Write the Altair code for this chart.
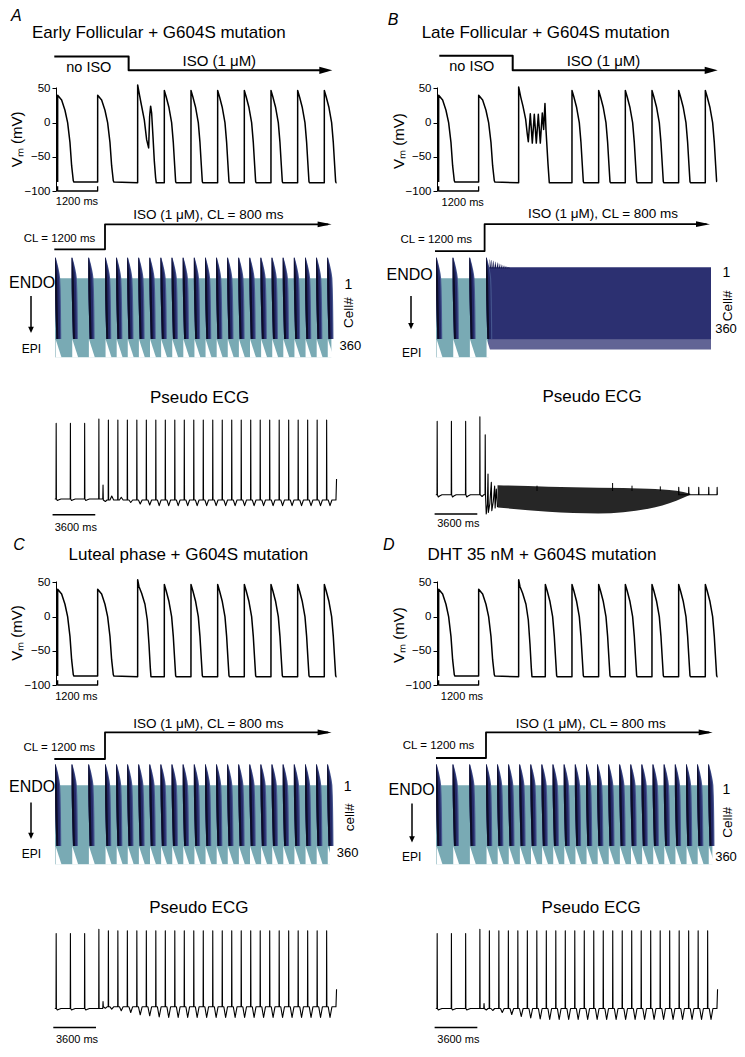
import altair as alt
import pandas as pd

FONT = "Liberation Sans"
PW = 296
COL_GAP = 85
TEAL = "#79aab4"
NAVY_LIGHT = "#45558e"
NAVY = "#242968"
NAVY_DARK = "#0c0d26"
BLOCK = "#2c3071"

# ---------------- action-potential shapes (ms after stimulus, mV) ----------------
AP_PRE_T = [0, 1, 120, 220, 300, 370, 420, 470, 490]
AP_PRE_V = [-87, 40, 33, 18, 0, -29, -63, -85, -87]
AP_ISO_T = [0, 1, 60, 140, 220, 270, 310, 340, 355]
AP_ISO_V = [-88, 47, 37, 22, 0, -29, -62, -86, -88]
AP_ISO1_T = [0, 1, 40, 120, 220, 290, 340, 380, 400]
AP_ISO1_V = [-88, 54, 44, 34, 18, -5, -40, -75, -88]
AP_EAD_T = [0, 1, 50, 100, 200, 270, 330, 360, 390, 420, 460, 500, 540, 560]
AP_EAD_V = [-88, 55, 42, 29, 4, -25, -37, 9, 24, 14, -20, -56, -81, -88]
AP_OSC_T = [0, 1, 60, 130, 210, 260, 290, 350, 410, 470, 530, 590, 650, 710, 750, 790, 820, 880, 920]
AP_OSC_V = [-88, 52, 38, 24, 5, -17, -28, 13, -30, 12, -30, 12, -30, 14, -10, 28, -10, -60, -88]
SHAPES = {"pre": (AP_PRE_T, AP_PRE_V), "iso": (AP_ISO_T, AP_ISO_V), "iso1": (AP_ISO1_T, AP_ISO1_V),
          "ead": (AP_EAD_T, AP_EAD_V), "osc": (AP_OSC_T, AP_OSC_V)}

# ---------------- single-cell Vm stimulus times ----------------
VM_A_BEATS = [0, 1200, 2400, 3200, 4000, 4800, 5600, 6400, 7200, 8000]
VM_A_KIND = ["pre", "pre", "ead", "iso", "iso", "iso", "iso", "iso", "iso", "iso"]
VM_B_BEATS = [0, 1200, 2400, 4000, 4800, 5600, 6400, 7200, 8000]
VM_B_KIND = ["pre", "pre", "osc", "iso", "iso", "iso", "iso", "iso", "iso"]
VM_C_BEATS = [0, 1200, 2400, 3200, 4000, 4800, 5600, 6400, 7200, 8000]
VM_C_KIND = ["pre", "pre", "iso1", "iso", "iso", "iso", "iso", "iso", "iso", "iso"]
VM_D_BEATS = [0, 1200, 2400, 3200, 4000, 4800, 5600, 6400, 7200, 8000]
VM_D_KIND = ["pre", "pre", "iso1", "iso", "iso", "iso", "iso", "iso", "iso", "iso"]
VM_END = {"A": 8370, "B": 8350, "C": 8370, "D": 8370}

# ---------------- transmural strand (wavefront timing per depth, ms) ----------------
WAVE_DEPTH = [-94, -70, -40, 0, 100, 200, 277]
WAVE_LEAD = [0, 0, 0, 0, 20, 60, 95]
WAVE_TAIL = [60, 160, 270, 370, 420, 440, 450]
TIS_BEATS = [0, 1200, 2400, 3600, 4400, 5200, 6000, 6800, 7600, 8400, 9200, 10000, 10800,
             11600, 12400, 13200, 14000, 14800, 15600, 16400, 17200, 18000, 18800, 19600]
TIS_B_BEATS = [0, 1200, 2400, 3600]
TIS_B_SLIVER_T = [3860, 3990, 4120, 4250, 4390, 4520, 4660, 4800, 4940, 5080, 5220]
TIS_B_SLIVER_D = [-86, -83, -80, -76, -72, -68, -64, -60, -57, -54, -52]

# ---------------- pseudo ECG ----------------
ECG_ISO_BEATS = [4400, 5200, 6000, 6800, 7600, 8400, 9200, 10000, 10800, 11600, 12400, 13200,
                 14000, 14800, 15600, 16400, 17200, 18000, 18800, 19600, 20400, 21200, 22000, 22800]
ECG_A_T = [3, 1.7, -3.5, -5, -6, -6.7] + [-6.7] * 18
ECG_C_T = [-0.6, -2.3, -4, -6.3, -7.3, -8.5] + [-9] * 18
ECG_D_T = [-2, -4, -6, -8, -9.5, -10.5] + [-11] * 18
ECG_B_OSC_T = [4050, 4065, 4090, 4150, 4250, 4300, 4330, 4450, 4580, 4620, 4740, 4860, 4900, 5000, 5100]
ECG_B_OSC_V = [4.3, 64.3, 4, -15, -5, 25, -13.4, -5, 16.6, -11.7, -3, 13, -9, 10, -8]
ECG_B_ENV_T = [5100, 9383, 13598, 17813, 20173, 21353]
ECG_B_ENV_HI = [13.8, 12.3, 11.3, 10.3, 8.3, 5.3]
ECG_B_ENV_LO = [-8.4, -12.7, -14.4, -9.7, -1.7, 4.3]
ECG_B_TICK_T = [8430, 14803, 16439, 18824]
ECG_B_TICK_V = [13.3, 16.0, 13.3, 12.6]
ECG_B_LATE = [20367, 21210, 22053, 22896, 23604]

# ---------------- row geometry ----------------
VM_T = [-49, -49 + PW * 30]
VM_V = [-100, 52]
VM_H = 104
TIS_T = [72, 72 + PW * 72]
TIS_D_AB, TIS_H_AB = [-398, 360], 166.3
TIS_D_CD, TIS_H_CD = [-456.5, 360], 179.2
ECG_T = [0, PW * 84.3]
ECG_V_AB, ECG_H_AB = [-81.3, 141], 222.3
ECG_V_CD, ECG_H_CD = [-12, 143.5], 155.5

VM_AXIS = alt.Axis(values=[-100, -50, 0, 50], title=None, grid=False, tickSize=4, tickWidth=1,
                   domainWidth=1, domainColor="black", tickColor="black", labelColor="black",
                   labelFont=FONT, labelFontSize=11.5, labelPadding=2)


def xq(field, dom):
    return alt.X(f"{field}:Q", scale=alt.Scale(domain=dom, nice=False, zero=False), axis=None)


def yq(field, dom, reverse=False, axis=None):
    return alt.Y(f"{field}:Q", scale=alt.Scale(domain=dom, nice=False, zero=False, reverse=reverse),
                 axis=axis)


def label(x, y, s, ex, ey, size, align="center", angle=0, style="normal", baseline="alphabetic"):
    df = pd.DataFrame({"x": [x], "y": [y], "s": [s]})
    return alt.Chart(df).mark_text(font=FONT, fontSize=size, align=align, baseline=baseline,
                                   angle=angle, fontStyle=style, color="black").encode(
        x=ex("x"), y=ey("y"), text="s:N")


def polyline(ts, vs, ex, ey, width=1.5):
    df = pd.DataFrame({"x": ts, "y": vs, "o": list(range(len(ts)))})
    return alt.Chart(df).mark_line(color="black", strokeWidth=width, strokeCap="butt",
                                   strokeJoin="round").encode(x=ex("x"), y=ey("y"), order="o:Q")


def arrow(x, y, ex, ey, path, size):
    df = pd.DataFrame({"x": [x], "y": [y]})
    return alt.Chart(df).mark_point(shape=path, size=size, filled=True, color="black",
                                    opacity=1, strokeWidth=0).encode(x=ex("x"), y=ey("y"))


ARROW_R = "M-1,-0.55L1,0L-1,0.55Z"
ARROW_R2 = "M-1,-0.4L1,0L-1,0.4Z"
ARROW_D = "M-0.9,-1L0.9,-1L0,1Z"


# ---------------- panels ----------------
def vm_chart(beats, kinds, t_end, texts, protocol=None):
    ex = lambda f: xq(f, VM_T)
    ey = lambda f: yq(f, VM_V, axis=VM_AXIS)
    ts, vs = [], []
    for b, k in zip(beats, kinds):
        T, V = SHAPES[k]
        for dt, v in zip(T, V):
            if b + dt <= t_end:
                ts.append(b + dt)
                vs.append(v)
    ts.append(t_end)
    vs.append(vs[-1])
    layers = [polyline(ts, vs, ex, ey, 1.5)]
    layers.append(polyline([0, 0, 1200, 1200], [-93, -100, -100, -93], ex, ey, 1.3))
    if protocol:
        t0, tstep, ttip, hi, lo = protocol
        layers.append(polyline([t0, tstep, tstep, ttip - 150], [hi, hi, lo, lo], ex, ey, 2))
        layers.append(arrow(ttip - 195, lo, ex, ey, ARROW_R, 169))
    for tx in texts:
        layers.append(label(*tx[:3], ex, ey, *tx[3:]))
    return alt.layer(*layers).properties(width=PW, height=VM_H)


def band_frame(beats):
    rows = []
    for i, b in enumerate(beats):
        for d, l, r in zip(WAVE_DEPTH, WAVE_LEAD, WAVE_TAIL):
            rows.append({"beat": i, "d": d, "tl": b + l, "tr": b + r,
                         "tm": b + l + 0.78 * (r - l), "tk": b + l + 0.4 * (r - l)})
    return pd.DataFrame(rows)


def tissue_chart(beats, t_end, dom, h, texts, protocol, endo_arrow, teal_end=None, dense=False):
    ex = lambda f: xq(f, TIS_T)
    ey = lambda f: yq(f, dom, reverse=True)
    layers = []
    teal = pd.DataFrame({"t0": [beats[0]], "t1": [teal_end or t_end], "d0": [0], "d1": [360]})
    layers.append(alt.Chart(teal).mark_rect(color=TEAL).encode(
        x=ex("t0"), x2="t1:Q", y=ey("d0"), y2="d1:Q"))
    if dense:
        blk = pd.DataFrame({"t0": [3750], "t1": [t_end], "d0": [-50], "d1": [280], "d2": [324]})
        layers.append(alt.Chart(blk).mark_rect(color=BLOCK, opacity=0.75).encode(
            x=ex("t0"), x2="t1:Q", y=ey("d1"), y2="d2:Q"))
        layers.append(alt.Chart(blk).mark_rect(color=BLOCK).encode(
            x=ex("t0"), x2="t1:Q", y=ey("d0"), y2="d1:Q"))
        rows = []
        for i, (t, d) in enumerate(zip(TIS_B_SLIVER_T, TIS_B_SLIVER_D)):
            rows.append({"beat": i, "d": d, "tl": t, "tr": t + 25})
            rows.append({"beat": i, "d": -45, "tl": t, "tr": t + 110})
        layers.append(alt.Chart(pd.DataFrame(rows)).mark_area(orient="horizontal", color="#161a50").encode(
            y=ey("d"), x=ex("tl"), x2="tr:Q", detail="beat:N"))
    bf = band_frame(beats)
    wedge = []
    for i, b in enumerate(beats):
        wedge.append({"beat": i, "d": 277, "tl": b + 40, "tr": b + 40})
        wedge.append({"beat": i, "d": 361, "tl": b + 40, "tr": b + 470})
    layers.append(alt.Chart(pd.DataFrame(wedge)).mark_area(orient="horizontal", color="white").encode(
        y=ey("d"), x=ex("tl"), x2="tr:Q", detail="beat:N"))
    layers.append(alt.Chart(bf).mark_area(orient="horizontal", color=NAVY_LIGHT, interpolate="monotone").encode(
        y=ey("d"), x=ex("tl"), x2="tr:Q", detail="beat:N"))
    layers.append(alt.Chart(bf).mark_area(orient="horizontal", color=NAVY, interpolate="monotone").encode(
        y=ey("d"), x=ex("tl"), x2="tm:Q", detail="beat:N"))
    layers.append(alt.Chart(bf).mark_area(orient="horizontal", color=NAVY_DARK, interpolate="monotone").encode(
        y=ey("d"), x=ex("tl"), x2="tk:Q", detail="beat:N"))
    t0, tstep, ttip, lo, hi = protocol
    layers.append(polyline([t0, tstep, tstep, ttip - 250], [lo, lo, hi, hi], ex, ey, 1.8))
    layers.append(arrow(ttip - 504, hi, ex, ey, ARROW_R2, 196))
    ta, da, db = endo_arrow
    layers.append(polyline([ta, ta], [da, db - 20], ex, ey, 1.5))
    layers.append(arrow(ta, db - 14, ex, ey, ARROW_D, 40))
    for tx in texts:
        layers.append(label(*tx[:3], ex, ey, *tx[3:]))
    return alt.layer(*layers).properties(width=PW, height=h)


def ecg_points(base_pre, pre_beats, pre_top, sp_top, sp_bump, base_iso, iso_top, iso_T, final_top):
    ts, vs = [-100], [base_pre]
    for b in pre_beats:
        for dt, v in [(0, base_pre), (15, pre_top), (35, base_pre), (110, base_pre - 1.5),
                      (250, base_pre - 0.8), (420, base_pre)]:
            ts.append(b + dt)
            vs.append(v)
    for dt, v in [(0, base_pre), (15, sp_top), (35, base_pre), (340, base_pre), (365, sp_bump),
                  (390, base_iso), (560, base_iso - 1.5), (700, base_iso)]:
        ts.append(3600 + dt)
        vs.append(v)
    for b, tv in zip(ECG_ISO_BEATS, iso_T):
        for dt, v in [(0, base_iso), (15, iso_top), (35, base_iso), (150, base_iso), (300, tv),
                      (460, base_iso)]:
            ts.append(b + dt)
            vs.append(v)
    ts += [23600, 23650]
    vs += [base_iso, final_top]
    return ts, vs


def ecg_chart(dom, h, texts, trace, bar, extra=None):
    ex = lambda f: xq(f, ECG_T)
    ey = lambda f: yq(f, dom)
    layers = []
    if extra:
        layers += extra(ex, ey)
    for ts, vs in trace:
        layers.append(polyline(ts, vs, ex, ey, 1.1))
    b0, b1, bv = bar
    layers.append(polyline([b0, b1], [bv, bv], ex, ey, 1.5))
    for tx in texts:
        layers.append(label(*tx[:3], ex, ey, *tx[3:]))
    return alt.layer(*layers).properties(width=PW, height=h)


# ----- single-cell Vm -----
A_vm = vm_chart(VM_A_BEATS, VM_A_KIND, VM_END["A"], [
    (-1400, 147.9, "A", 16, "left", 0, "italic"),
    (3035, 123.5, "Early Follicular + G604S mutation", 17),
    (935, 73.3, "no ISO", 14.5),
    (4850, 82.1, "ISO (1 μM)", 15),
    (580, -121.1, "1200 ms", 11),
    (-1210, -24.6, "Vₘ (mV)", 15, "center", 270, "normal", "middle"),
], protocol=(-100, 2130, 8240, 96.7, 76.3))
B_vm = vm_chart(VM_B_BEATS, VM_B_KIND, VM_END["B"], [
    (-1528, 143.1, "B", 16, "left", 0, "italic"),
    (3212, 123.5, "Late Follicular + G604S mutation", 17),
    (995, 74.8, "no ISO", 14.5),
    (4946, 82.1, "ISO (1 μM)", 15),
    (722, -121.5, "1200 ms", 11),
    (-1180, -27, "Vₘ (mV)", 15, "center", 270, "normal", "middle"),
], protocol=(20, 2222, 8372, 97.7, 76.3))
C_vm = vm_chart(VM_C_BEATS, VM_C_KIND, VM_END["C"], [
    (-1330, 97.8, "C", 16, "left", 0, "italic"),
    (3920, 83.1, "Luteal phase + G604S mutation", 17),
    (560, -121.5, "1200 ms", 11),
    (-1210, -24, "Vₘ (mV)", 15, "center", 270, "normal", "middle"),
])
D_vm = vm_chart(VM_D_BEATS, VM_D_KIND, VM_END["D"], [
    (-1669, 97.8, "D", 16, "left", 0, "italic"),
    (3100, 83.1, "DHT 35 nM + G604S mutation", 17),
    (700, -121.5, "1200 ms", 11),
    (-1180, -27, "Vₘ (mV)", 15, "center", 270, "normal", "middle"),
])

# ----- strand -----
ISO_CL = "ISO (1 μM), CL = 800 ms"
A_tis = tissue_chart(TIS_BEATS, 19900, TIS_D_AB, TIS_H_AB, [
    (11038, -272, ISO_CL, 13.5),
    (324, -165, "CL = 1200 ms", 11.5),
    (-1650, 42.8, "ENDO", 16),
    (-1706, 339, "EPI", 12),
    (21118, 47.4, "1", 14),
    (21190, 156.8, "Cell#", 13.5, "center", 270, "normal", "middle"),
    (21262, 326.7, "360", 13),
], (-50, 3600, 19915, -132, -246), (-1728, 80.7, 249))
B_tis = tissue_chart(TIS_B_BEATS, 19800, TIS_D_AB, TIS_H_AB, [
    (12024, -276, ISO_CL, 13.5),
    (22, -162, "CL = 1200 ms", 11.5),
    (-1900, 9.1, "ENDO", 16),
    (-1757, 357, "EPI", 12),
    (20900, -7, "1", 14),
    (21000, 126, "Cell#", 13.5, "center", 270, "normal", "middle"),
    (20880, 248, "360", 13),
], (-72, 3500, 19728, -124, -247), (-1800, 80.7, 232), teal_end=3780, dense=True)
C_tis = tissue_chart(TIS_BEATS, 19800, TIS_D_CD, TIS_H_CD, [
    (11038, -262, ISO_CL, 13.5),
    (310, -157, "CL = 1200 ms", 11.5),
    (-1650, 29.6, "ENDO", 16),
    (-1706, 331.7, "EPI", 12),
    (21067, 25, "1", 14),
    (21240, 146.7, "cell#", 13.5, "center", 270, "normal", "middle"),
    (21067, 329, "360", 13),
], (-50, 3600, 19915, -119.4, -240.6), (-1728, 78.4, 245.2))
D_tis = tissue_chart(TIS_BEATS, 19900, TIS_D_CD, TIS_H_CD, [
    (11140, -262, ISO_CL, 13.5),
    (180, -165, "CL = 1200 ms", 11.5),
    (-1750, 43.3, "ENDO", 16),
    (-1750, 344, "EPI", 12),
    (20900, 40, "1", 14),
    (21000, 169.5, "Cell#", 13.5, "center", 270, "normal", "middle"),
    (20880, 347, "360", 13),
], (0, 3600, 19922, -123.9, -240.6), (-1728, 82.9, 260.7))

# ----- pseudo ECG -----
A_ecg = ecg_chart(ECG_V_AB, ECG_H_AB, [
    (12105, 95.6, "Pseudo ECG", 17),
    (1669, -32, "3600 ms", 11),
], [ecg_points(0, [0, 1200, 2400], 75.6, 80, 14, -1, 79, ECG_A_T, 20)], (-290, 3310, -15.7))


def b_extra(ex, ey):
    env = pd.DataFrame({"x": ECG_B_ENV_T, "hi": ECG_B_ENV_HI, "lo": ECG_B_ENV_LO})
    ticks = pd.DataFrame({"x": ECG_B_TICK_T, "hi": ECG_B_TICK_V, "lo": [8] * len(ECG_B_TICK_T)})
    return [
        alt.Chart(env).mark_area(color="#262626", interpolate="monotone").encode(
            x=ex("x"), y=ey("hi"), y2="lo:Q"),
        alt.Chart(ticks).mark_rule(color="black", strokeWidth=1).encode(
            x=ex("x"), y=ey("lo"), y2="hi:Q"),
    ]


b_ts, b_vs = [-100], [4.3]
for b in [0, 1200, 2400]:
    for dt, v in [(0, 4.3), (15, 77.6), (35, 4.3), (110, 2.0), (250, 3.2), (420, 4.3)]:
        b_ts.append(b + dt)
        b_vs.append(v)
for dt, v in [(0, 4.3), (15, 82.3), (35, 4.3), (200, 2.5), (350, 4.3)]:
    b_ts.append(3600 + dt)
    b_vs.append(v)
b_ts += ECG_B_OSC_T
b_vs += ECG_B_OSC_V
b2_ts, b2_vs = [21353], [4.3]
for b in ECG_B_LATE:
    for dt, v in [(0, 4.3), (12, 11.6), (30, 4.3)]:
        if b + dt <= 23640:
            b2_ts.append(b + dt)
            b2_vs.append(v)
B_ecg = ecg_chart(ECG_V_AB, ECG_H_AB, [
    (13067, 96.6, "Pseudo ECG", 17),
    (1796, -28.4, "3600 ms", 11),
], [(b_ts, b_vs), (b2_ts, b2_vs)], (-202, 3398, -15), extra=b_extra)

C_ecg = ecg_chart(ECG_V_CD, ECG_H_CD, [
    (12038, 95.3, "Pseudo ECG", 17),
    (1771, -34, "3600 ms", 11),
], [ecg_points(0, [0, 1200, 2400], 75, 79.3, 7, 1.7, 77.7, ECG_C_T, 19.3)], (-228, 3372, -19))
D_ecg = ecg_chart(ECG_V_CD, ECG_H_CD, [
    (13000, 95.3, "Pseudo ECG", 17),
    (1800, -34, "3600 ms", 11),
], [ecg_points(0, [0, 1200, 2400], 75, 79.3, 5, 0, 77.7, ECG_D_T, 19.3)], (-200, 3400, -19))

chart = alt.concat(
    A_vm, B_vm, A_tis, B_tis, A_ecg, B_ecg,
    C_vm, D_vm, C_tis, D_tis, C_ecg, D_ecg,
    columns=2, spacing={"row": 0, "column": COL_GAP}, bounds="flush",
).configure_view(strokeWidth=0).properties(
    padding={"left": 0, "top": 0, "right": 0, "bottom": 0})

chart.save("out.html", embed_options={"renderer": "svg", "actions": False})
